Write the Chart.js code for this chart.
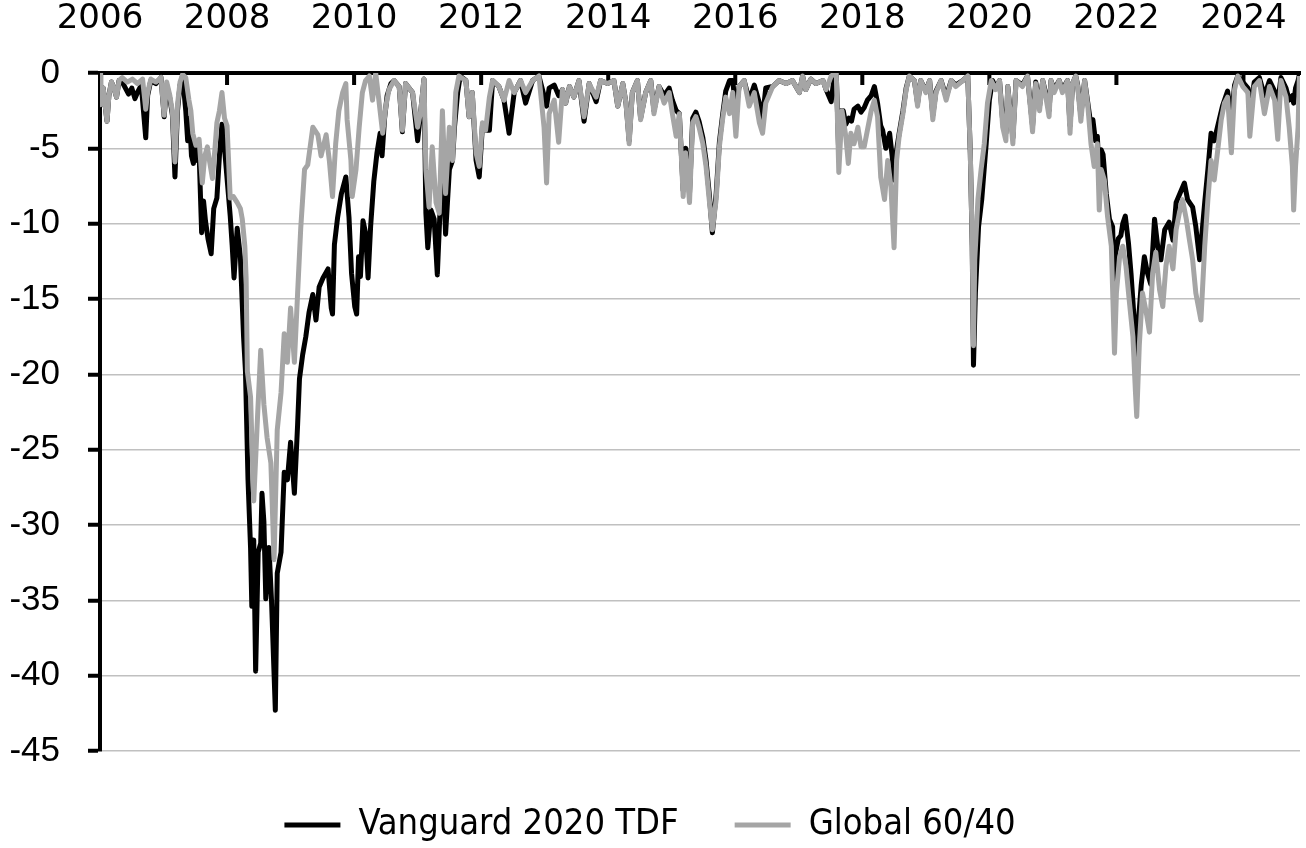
<!DOCTYPE html>
<html>
<head>
<meta charset="utf-8">
<title>Drawdowns: Vanguard 2020 TDF vs Global 60/40</title>
<script src="https://cdn.jsdelivr.net/npm/chart.js@4.4.1/dist/chart.umd.min.js"></script>
<style>
  html, body { margin: 0; padding: 0; background: #fff; }
  #wrap { width: 1306px; height: 848px; }
</style>
</head>
<body>
<div id="wrap"><canvas id="drawdownChart"></canvas></div>
<script>
// --- Axis ticks ---
const yearTicks = [2006, 2008, 2010, 2012, 2014, 2016, 2018, 2020, 2022, 2024];
const valueTicks = [0, -5, -10, -15, -20, -25, -30, -35, -40, -45];

// --- Vanguard 2020 TDF drawdown (%) ---
const vgDates = [
  2006.00, 2006.01, 2006.05, 2006.11, 2006.14, 2006.18, 2006.22, 2006.26, 2006.30, 2006.35, 2006.40, 2006.45, 2006.50, 2006.55, 2006.60, 2006.65, 2006.72, 2006.75, 2006.80, 2006.88, 2006.96,
  2007.01, 2007.05, 2007.10, 2007.14, 2007.18, 2007.22, 2007.26, 2007.30, 2007.35, 2007.38, 2007.41, 2007.44, 2007.47, 2007.50, 2007.53, 2007.56, 2007.60, 2007.63, 2007.66, 2007.70, 2007.75, 2007.79, 2007.84, 2007.88, 2007.92, 2007.96,
  2008.01, 2008.05, 2008.08, 2008.11, 2008.16, 2008.21, 2008.26, 2008.29, 2008.33, 2008.37, 2008.39, 2008.42, 2008.45, 2008.49, 2008.53, 2008.55, 2008.58, 2008.61, 2008.66, 2008.70, 2008.76, 2008.79, 2008.85, 2008.90, 2008.95,
  2009.00, 2009.06, 2009.11, 2009.14, 2009.19, 2009.24, 2009.29, 2009.35, 2009.40, 2009.45, 2009.51, 2009.59, 2009.64, 2009.66, 2009.69, 2009.74, 2009.80, 2009.87, 2009.92, 2009.96,
  2010.01, 2010.04, 2010.07, 2010.10, 2010.14, 2010.18, 2010.22, 2010.26, 2010.31, 2010.36, 2010.41, 2010.44, 2010.48, 2010.52, 2010.58, 2010.63, 2010.71, 2010.76, 2010.81, 2010.92,
  2011.00, 2011.05, 2011.10, 2011.13, 2011.16, 2011.21, 2011.26, 2011.31, 2011.36, 2011.40, 2011.44, 2011.50, 2011.55, 2011.58, 2011.63, 2011.67, 2011.76, 2011.81, 2011.86, 2011.92, 2011.97,
  2012.02, 2012.07, 2012.13, 2012.18, 2012.28, 2012.36, 2012.44, 2012.52, 2012.62, 2012.70, 2012.81, 2012.91, 2012.99,
  2013.03, 2013.07, 2013.15, 2013.22, 2013.28, 2013.33, 2013.39, 2013.46, 2013.54, 2013.62, 2013.70, 2013.81, 2013.88, 2013.99,
  2014.09, 2014.15, 2014.23, 2014.28, 2014.33, 2014.38, 2014.46, 2014.51, 2014.59, 2014.67, 2014.72, 2014.80, 2014.88, 2014.96,
  2015.01, 2015.07, 2015.12, 2015.18, 2015.22, 2015.28, 2015.33, 2015.38, 2015.43, 2015.49, 2015.54, 2015.59, 2015.64, 2015.70, 2015.75, 2015.80, 2015.85, 2015.91, 2015.96,
  2016.01, 2016.06, 2016.14, 2016.22, 2016.30, 2016.38, 2016.43, 2016.48, 2016.59, 2016.69, 2016.80, 2016.90,
  2017.01, 2017.06, 2017.11, 2017.19, 2017.27, 2017.38, 2017.43, 2017.51, 2017.55, 2017.59, 2017.63, 2017.66, 2017.70, 2017.74, 2017.79, 2017.83, 2017.87, 2017.93, 2017.98,
  2018.03, 2018.08, 2018.14, 2018.19, 2018.24, 2018.29, 2018.32, 2018.37, 2018.43, 2018.47, 2018.50, 2018.54, 2018.58, 2018.64, 2018.69, 2018.74, 2018.82, 2018.87, 2018.92,
  2019.00, 2019.06, 2019.11, 2019.16, 2019.24, 2019.32, 2019.40, 2019.47, 2019.58, 2019.66, 2019.70, 2019.73, 2019.75, 2019.78, 2019.83, 2019.88, 2019.95,
  2020.00, 2020.05, 2020.10, 2020.16, 2020.21, 2020.26, 2020.29, 2020.37, 2020.42, 2020.52, 2020.60, 2020.68, 2020.73, 2020.79, 2020.84, 2020.89, 2020.94, 2020.97,
  2021.02, 2021.10, 2021.15, 2021.23, 2021.27, 2021.31, 2021.36, 2021.39, 2021.44, 2021.50, 2021.55, 2021.60, 2021.63, 2021.67, 2021.70, 2021.73, 2021.76, 2021.79, 2021.84, 2021.89, 2021.94, 2021.97, 2021.99,
  2022.03, 2022.07, 2022.10, 2022.14, 2022.19, 2022.23, 2022.28, 2022.31, 2022.34, 2022.39, 2022.44, 2022.49, 2022.54, 2022.60, 2022.65, 2022.70, 2022.76, 2022.83, 2022.89, 2022.94,
  2023.00, 2023.07, 2023.12, 2023.20, 2023.25, 2023.31, 2023.39, 2023.44, 2023.49, 2023.54, 2023.59, 2023.67, 2023.75, 2023.81, 2023.86, 2023.91, 2023.99,
  2024.07, 2024.10, 2024.17, 2024.25, 2024.33, 2024.41, 2024.49, 2024.54, 2024.59, 2024.67, 2024.72, 2024.77, 2024.79, 2024.82, 2024.86, 2024.88
];
const vgValues = [
  0, -2.1, -1.0, -3.2, -1.5, -0.6, -1.0, -1.6, -0.5, -0.6, -1.0, -1.4, -1.0, -1.7, -1.2, -0.8, -4.3, -1.5, -0.5, -0.7, -0.3,
  -2.9, -0.8, -1.7, -2.8, -6.9, -2.5, -0.8, -0.2, -2.5, -4.5, -3.0, -5.5, -6.0, -4.8, -5.8, -5.3, -10.6, -8.5, -9.8, -11.0, -12.0, -9.0, -8.3, -5.5, -3.4, -5.0,
  -7.5, -9.5, -11.4, -13.6, -10.3, -12.2, -17.5, -19.8, -27.0, -31.5, -35.4, -31.0, -39.7, -31.8, -31.2, -27.9, -29.8, -34.9, -31.5, -35.0, -42.3, -33.2, -31.8, -26.5, -27.0,
  -24.5, -27.9, -23.4, -20.3, -18.7, -17.5, -15.9, -14.7, -16.4, -14.2, -13.6, -13.0, -15.6, -16.0, -11.4, -9.6, -8.0, -6.9, -9.6, -13.3,
  -15.5, -16.0, -12.2, -13.5, -9.8, -10.6, -13.6, -10.2, -7.2, -5.3, -4.0, -5.5, -3.0, -1.5, -0.7, -0.5, -0.9, -3.9, -0.7, -1.3,
  -4.5, -2.5, -0.4, -9.3, -11.6, -9.1, -9.7, -13.4, -8.4, -6.2, -10.7, -6.4, -5.8, -3.6, -1.3, -0.2, -0.5, -2.9, -1.3, -5.8, -6.9,
  -3.5, -3.8, -3.8, -0.5, -0.9, -1.8, -4.0, -1.3, -0.5, -2.0, -0.5, -0.2, -1.5,
  -2.2, -1.0, -0.8, -1.5, -1.1, -2.0, -0.9, -1.6, -0.5, -3.2, -0.7, -1.9, -0.5, -0.7,
  -0.5, -2.2, -0.7, -2.0, -4.5, -1.3, -0.5, -3.0, -1.3, -0.5, -2.5, -0.9, -1.5, -1.0,
  -1.8, -2.5, -2.7, -7.8, -5.0, -8.0, -3.0, -2.6, -3.2, -4.3, -5.8, -8.0, -10.6, -8.0, -4.6, -2.8, -1.2, -0.5, -0.5,
  -2.5, -0.9, -0.5, -1.8, -0.8, -2.0, -3.0, -1.0, -0.9, -0.5, -0.7, -0.5,
  -1.3, -0.2, -1.1, -0.4, -0.7, -0.5, -1.1, -1.9, -0.5, 0, -5.5, -2.5, -2.5, -3.4, -3.0, -3.2, -2.4, -2.2, -2.6,
  -2.3, -1.8, -1.5, -0.9, -2.0, -3.5, -3.8, -5.0, -4.0, -5.5, -7.1, -5.1, -4.0, -2.5, -1.0, -0.2, -0.5, -2.0, -0.5,
  -1.2, -0.5, -2.8, -1.2, -0.5, -1.6, -0.5, -0.8, -0.5, -0.2, -5.3, -11.5, -19.4, -14.6, -10.2, -8.4, -4.7,
  -1.8, -0.5, -1.0, -0.5, -3.2, -4.0, -0.9, -4.3, -0.5, -0.8, -0.2, -3.5, -0.6, -2.2, -0.5, -1.4, -2.5, -0.5,
  -1.1, -0.5, -1.1, -0.5, -3.5, -0.7, -0.2, -0.8, -2.8, -0.5, -2.0, -3.5, -3.1, -4.5, -4.2, -7.0, -5.1, -5.4, -8.0, -9.7, -10.2, -14.5, -11.9,
  -11.0, -10.8, -10.0, -9.5, -11.3, -13.3, -16.4, -19.0, -16.8, -14.1, -12.2, -13.3, -14.0, -9.7, -11.5, -12.4, -10.4, -9.9, -11.1, -8.6,
  -8.0, -7.3, -8.4, -8.9, -10.2, -12.4, -8.6, -6.4, -4.0, -4.5, -3.6, -2.2, -1.2, -3.0, -0.8, -0.2, -0.6,
  -1.0, -2.5, -0.6, -0.3, -1.5, -0.5, -1.2, -2.0, -0.3, -1.0, -1.8, -1.5, -2.0, -1.0, -0.5, -0.1
];

// --- Global 60/40 drawdown (%) ---
const glDates = [
  2006.00, 2006.01, 2006.05, 2006.11, 2006.14, 2006.18, 2006.22, 2006.26, 2006.30, 2006.35, 2006.43, 2006.51, 2006.59, 2006.67, 2006.72, 2006.75, 2006.80, 2006.88, 2006.96,
  2007.01, 2007.05, 2007.10, 2007.14, 2007.18, 2007.22, 2007.26, 2007.30, 2007.35, 2007.40, 2007.43, 2007.46, 2007.51, 2007.56, 2007.61, 2007.65, 2007.69, 2007.73, 2007.77, 2007.81, 2007.84, 2007.88, 2007.92, 2007.96,
  2008.00, 2008.05, 2008.10, 2008.16, 2008.21, 2008.24, 2008.28, 2008.30, 2008.32, 2008.37, 2008.42, 2008.48, 2008.53, 2008.58, 2008.63, 2008.69, 2008.74, 2008.79, 2008.85, 2008.90, 2008.95,
  2009.00, 2009.06, 2009.11, 2009.16, 2009.22, 2009.27, 2009.35, 2009.43, 2009.48, 2009.56, 2009.61, 2009.66, 2009.71, 2009.76, 2009.82, 2009.87, 2009.89, 2009.95, 2009.97,
  2010.03, 2010.08, 2010.13, 2010.18, 2010.24, 2010.29, 2010.34, 2010.39, 2010.45, 2010.50, 2010.55, 2010.63, 2010.71, 2010.76, 2010.81, 2010.92,
  2011.00, 2011.05, 2011.10, 2011.13, 2011.18, 2011.23, 2011.29, 2011.34, 2011.39, 2011.44, 2011.50, 2011.55, 2011.60, 2011.65, 2011.76, 2011.81, 2011.86, 2011.92, 2011.97,
  2012.02, 2012.07, 2012.13, 2012.18, 2012.28, 2012.36, 2012.44, 2012.52, 2012.62, 2012.70, 2012.81, 2012.91, 2012.99,
  2013.03, 2013.07, 2013.15, 2013.22, 2013.28, 2013.33, 2013.39, 2013.46, 2013.54, 2013.62, 2013.70, 2013.81, 2013.88, 2013.99,
  2014.09, 2014.15, 2014.23, 2014.28, 2014.33, 2014.38, 2014.46, 2014.51, 2014.59, 2014.67, 2014.72, 2014.80, 2014.88, 2014.96,
  2015.01, 2015.07, 2015.12, 2015.18, 2015.22, 2015.28, 2015.33, 2015.38, 2015.43, 2015.49, 2015.54, 2015.59, 2015.64, 2015.70, 2015.75, 2015.80, 2015.85, 2015.91, 2015.96,
  2016.01, 2016.06, 2016.14, 2016.22, 2016.30, 2016.38, 2016.43, 2016.48, 2016.59, 2016.69, 2016.80, 2016.90,
  2017.01, 2017.06, 2017.11, 2017.19, 2017.27, 2017.38, 2017.43, 2017.51, 2017.59, 2017.63, 2017.68, 2017.74, 2017.78, 2017.82, 2017.87, 2017.93, 2017.98,
  2018.03, 2018.08, 2018.14, 2018.19, 2018.24, 2018.29, 2018.35, 2018.40, 2018.45, 2018.50, 2018.54, 2018.58, 2018.64, 2018.69, 2018.74, 2018.82, 2018.87, 2018.92,
  2019.00, 2019.06, 2019.11, 2019.16, 2019.24, 2019.32, 2019.40, 2019.47, 2019.58, 2019.66, 2019.70, 2019.73, 2019.75, 2019.77, 2019.82, 2019.87, 2019.92, 2019.97,
  2020.03, 2020.10, 2020.16, 2020.21, 2020.26, 2020.29, 2020.37, 2020.42, 2020.52, 2020.60, 2020.68, 2020.73, 2020.79, 2020.84, 2020.89, 2020.94, 2020.97,
  2021.02, 2021.10, 2021.15, 2021.23, 2021.27, 2021.31, 2021.36, 2021.39, 2021.44, 2021.50, 2021.55, 2021.60, 2021.65, 2021.70, 2021.73, 2021.76, 2021.81, 2021.86, 2021.92, 2021.97,
  2022.00, 2022.05, 2022.10, 2022.15, 2022.20, 2022.26, 2022.30, 2022.32, 2022.36, 2022.41, 2022.47, 2022.52, 2022.57, 2022.62, 2022.68, 2022.73, 2022.78, 2022.83, 2022.89, 2022.94, 2022.99,
  2023.04, 2023.10, 2023.15, 2023.20, 2023.25, 2023.33, 2023.39, 2023.44, 2023.49, 2023.54, 2023.59, 2023.65, 2023.70, 2023.75, 2023.81, 2023.86, 2023.91, 2023.99,
  2024.07, 2024.10, 2024.17, 2024.25, 2024.33, 2024.41, 2024.49, 2024.54, 2024.59, 2024.67, 2024.72, 2024.77, 2024.79, 2024.82, 2024.86, 2024.88
];
const glValues = [
  0, -2.1, -1.0, -3.2, -1.5, -0.6, -1.0, -1.6, -0.5, -0.3, -0.6, -0.4, -0.7, -0.4, -2.4, -1.3, -0.4, -0.6, -0.3,
  -2.8, -0.6, -1.5, -2.6, -5.9, -2.1, -0.6, -0.1, -0.3, -1.8, -2.5, -4.0, -4.8, -4.4, -7.3, -5.5, -4.9, -6.0, -7.0, -5.0, -3.3, -2.5, -1.3, -3.0,
  -3.5, -8.3, -8.2, -8.6, -9.0, -9.7, -11.5, -13.6, -19.8, -21.5, -28.4, -22.8, -18.4, -22.0, -24.2, -25.9, -32.3, -23.7, -21.2, -17.3, -19.2,
  -15.6, -19.2, -14.7, -10.3, -6.4, -6.1, -3.6, -4.1, -5.5, -4.1, -5.8, -8.2, -4.7, -2.5, -1.3, -0.7, -3.1, -5.8, -8.2,
  -6.4, -3.6, -1.3, -0.5, -0.2, -1.8, 0, -1.8, -4.0, -2.2, -1.1, -0.5, -0.9, -3.8, -0.7, -1.3,
  -3.6, -2.5, -0.4, -6.4, -8.9, -4.9, -8.6, -9.3, -2.5, -8.0, -3.6, -5.8, -1.3, -0.2, -0.5, -2.9, -1.3, -5.3, -6.2,
  -3.3, -3.8, -1.6, -0.5, -0.9, -1.8, -0.5, -1.3, -0.5, -1.3, -0.5, -0.2, -3.6,
  -7.3, -2.7, -1.8, -4.6, -1.1, -2.0, -0.9, -1.6, -0.5, -2.9, -0.7, -1.6, -0.5, -0.7,
  -0.5, -2.2, -0.7, -2.0, -4.7, -1.3, -0.5, -3.1, -1.3, -0.5, -2.7, -0.9, -2.0, -1.3,
  -2.7, -4.2, -2.7, -8.2, -5.3, -8.6, -3.3, -2.9, -3.6, -4.7, -6.2, -8.4, -10.4, -8.4, -4.9, -3.1, -1.6, -2.7, -1.3,
  -4.2, -0.9, -0.5, -2.2, -1.3, -3.3, -4.0, -2.0, -0.9, -0.5, -0.7, -0.5,
  -1.3, -0.2, -1.1, -0.4, -0.7, -0.5, -1.1, -0.2, 0, -6.6, -2.5, -4.2, -6.0, -4.0, -4.7, -3.6, -4.9,
  -4.9, -3.8, -2.5, -1.8, -2.9, -6.9, -8.4, -5.8, -7.5, -11.6, -5.8, -4.2, -2.7, -1.1, -0.2, -0.5, -2.2, -0.5,
  -1.3, -0.5, -3.1, -1.3, -0.5, -1.8, -0.5, -0.9, -0.5, -0.2, -5.3, -11.3, -18.1, -12.4, -8.4, -6.4, -4.7, -2.0,
  -0.5, -1.1, -0.5, -3.6, -4.5, -0.9, -4.7, -0.5, -0.9, -0.2, -3.9, -0.7, -2.5, -0.5, -1.6, -2.9, -0.5,
  -1.3, -0.5, -1.3, -0.5, -4.0, -0.7, -0.2, -0.9, -3.2, -0.5, -2.2, -4.7, -6.2, -4.7, -9.1, -6.4, -7.1, -9.5, -11.5, -18.6,
  -14.6, -12.2, -11.5, -12.8, -15.0, -17.5, -21.2, -22.8, -18.1, -14.6, -15.9, -17.2, -13.3, -11.9, -14.4, -15.5, -12.8, -11.5, -13.0, -10.4, -9.3,
  -8.4, -9.7, -11.1, -12.4, -14.6, -16.4, -11.5, -8.4, -5.8, -7.1, -5.3, -3.1, -2.0, -1.6, -5.3, -1.1, -0.2, -0.9,
  -1.3, -4.2, -0.9, -0.5, -2.7, -0.9, -1.8, -4.4, -0.5, -1.6, -3.6, -6.2, -9.1, -6.2, -3.6, -0.2
];

const BLACK = '#000000';
const GREY = '#a5a5a5';

document.addEventListener('DOMContentLoaded', () => {

    const toPoints = (xs, ys) => xs.map((x, i) => ({ x: x, y: ys[i] }));

    // small tick marks pointing down from the top axis line
    const innerTicks = {
        id: 'innerTicks',
        beforeDatasetsDraw(chart) {
            const { ctx, chartArea, scales } = chart;
            ctx.save();
            ctx.fillStyle = BLACK;
            yearTicks.forEach((v) => {
                const px = scales.x.getPixelForValue(v);
                ctx.fillRect(px - 2, chartArea.top, 4, 12);
            });
            ctx.restore();
        }
    };

    const ctx = document.getElementById('drawdownChart').getContext('2d');
    const drawdownChart = new Chart(ctx, {
        type: 'line',
        data: {
            datasets: [{
                label: 'Vanguard 2020 TDF',
                data: toPoints(vgDates, vgValues),
                borderColor: BLACK,
                backgroundColor: BLACK,
                borderWidth: 5,
                borderJoinStyle: 'round',
                pointRadius: 0,
                order: 2
            }, {
                label: 'Global 60/40',
                data: toPoints(glDates, glValues),
                borderColor: GREY,
                backgroundColor: GREY,
                borderWidth: 5,
                borderJoinStyle: 'round',
                pointRadius: 0,
                order: 1
            }]
        },
        options: {
            responsive: true,
            maintainAspectRatio: false,
            animation: false,
            layout: { padding: { left: 0, right: 6, top: 0, bottom: -5 } },
            scales: {
                x: {
                    type: 'linear',
                    position: 'top',
                    min: 2006,
                    max: 2024.89,
                    afterBuildTicks: (scale) => { scale.ticks = yearTicks.map(v => ({ value: v })); },
                    afterFit: (scale) => { scale.height = 73; },
                    grid: { drawOnChartArea: false, drawTicks: true, tickLength: 33, tickColor: 'rgba(0,0,0,0)' },
                    border: { display: true, color: BLACK, width: 4 },
                    ticks: {
                        padding: 0,
                        autoSkip: false,
                        maxRotation: 0,
                        color: BLACK,
                        font: { family: "'DejaVu Sans', sans-serif", size: 34 },
                        callback: (v) => String(v)
                    }
                },
                y: {
                    min: -45,
                    max: 0,
                    afterBuildTicks: (scale) => { scale.ticks = valueTicks.map(v => ({ value: v })); },
                    afterFit: (scale) => { scale.width = 100; },
                    grid: { color: '#c0c0c0', lineWidth: 1.5, tickColor: BLACK, tickWidth: 4, tickLength: 12 },
                    border: { display: true, color: BLACK, width: 4 },
                    ticks: {
                        padding: 28,
                        color: BLACK,
                        font: { family: "'Liberation Sans', Arial, sans-serif", size: 35 },
                        callback: (v) => String(v)
                    }
                }
            },
            plugins: {
                legend: {
                    position: 'bottom',
                    reverse: true,
                    labels: {
                        boxWidth: 56,
                        boxHeight: 5,
                        padding: 56,
                        color: BLACK,
                        font: { family: "'DejaVu Sans Condensed', 'DejaVu Sans', sans-serif", size: 36 },
                        generateLabels: (chart) => {
                            const items = Chart.defaults.plugins.legend.labels.generateLabels(chart);
                            items.forEach((it) => { it.lineWidth = 0; it.fillStyle = it.strokeStyle; });
                            return items;
                        }
                    }
                },
                tooltip: { enabled: false }
            }
        },
        plugins: [innerTicks]
    });

});
</script>
</body>
</html>
